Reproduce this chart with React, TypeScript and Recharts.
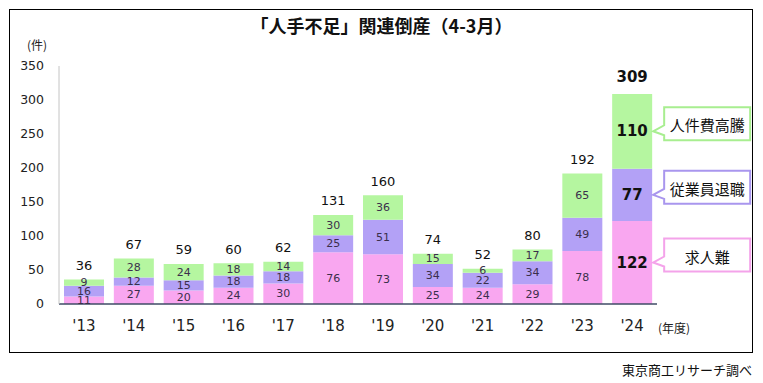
import { BarChart, Bar, XAxis, YAxis, LabelList } from 'recharts';

const years = ["'13", "'14", "'15", "'16", "'17", "'18", "'19", "'20", "'21", "'22", "'23", "'24"];
const kyujinnan = [11, 27, 20, 24, 30, 76, 73, 25, 24, 29, 78, 122];
const taishoku = [16, 12, 15, 18, 18, 25, 51, 34, 22, 34, 49, 77];
const jinkenhi = [9, 28, 24, 18, 14, 30, 36, 15, 6, 17, 65, 110];
const totals = [36, 67, 59, 60, 62, 131, 160, 74, 52, 80, 192, 309];
const yTicks = [0, 50, 100, 150, 200, 250, 300, 350];

const data = years.map((year, i) => ({
	year,
	kyujinnan: kyujinnan[i],
	taishoku: taishoku[i],
	jinkenhi: jinkenhi[i],
}));

const LAST = years.length - 1;
const FONT = "'DejaVu Sans', 'Noto Sans CJK JP', sans-serif";
const JP_FONT = "'Noto Sans CJK JP', sans-serif";

const PINK = '#f9a7f0';
const PURPLE = '#b3a1f6';
const GREEN = '#b5f6a0';

const box = (props: any) => {
	const vb = props.viewBox || {};
	const x = props.x ?? vb.x;
	const y = props.y ?? vb.y;
	const width = props.width ?? vb.width;
	const height = props.height ?? vb.height;
	return { x, y, width, height };
};

const Callout = ({ tipX, tipY, text, color }: any) => {
	const left = tipX + 11;
	const top = tipY - 24;
	const w = 86;
	const h = 33;
	const d = `M${left},${top} H${left + w} V${top + h} H${left} V${tipY + 4} L${tipX},${tipY} L${left},${tipY - 6} Z`;
	return (
		<g>
			<path d={d} fill="#fff" stroke={color} strokeWidth={2} />
			<text
				x={left + w / 2}
				y={top + h / 2 + 1}
				textAnchor="middle"
				dominantBaseline="central"
				fontSize={15}
				fontFamily={JP_FONT}
				fill="#111"
			>
				{text}
			</text>
		</g>
	);
};

const segmentLabel = (callout: string, color: string) => (props: any) => {
	const { x, y, width, height } = box(props);
	const { index, value } = props;
	const cx = x + width / 2;
	const cy = y + height / 2;
	if (index === LAST) {
		return (
			<g>
				<text
					x={cx}
					y={cy}
					textAnchor="middle"
					dominantBaseline="central"
					fontSize={15}
					fontWeight="bold"
					fontFamily={FONT}
					fill="#111"
				>
					{value}
				</text>
				<Callout tipX={x + width + 1} tipY={cy} text={callout} color={color} />
			</g>
		);
	}
	return (
		<text
			x={cx}
			y={cy}
			textAnchor="middle"
			dominantBaseline="central"
			fontSize={11}
			fontFamily={FONT}
			fill="#3b2f4c"
		>
			{value}
		</text>
	);
};

const totalLabel = (props: any) => {
	const { x, y, width } = box(props);
	const { index } = props;
	const last = index === LAST;
	return (
		<text
			x={x + width / 2}
			y={y - (last ? 17 : 14)}
			textAnchor="middle"
			dominantBaseline="central"
			fontSize={last ? 15 : 13}
			fontWeight={last ? 'bold' : 'normal'}
			fontFamily={FONT}
			fill="#111"
		>
			{totals[index]}
		</text>
	);
};

export default function App() {
	return (
		<div
			style={{
				position: 'absolute',
				left: 0,
				top: 0,
				width: 763,
				height: 383,
				background: '#fff',
				fontFamily: FONT,
			}}
		>
			<div
				style={{
					position: 'absolute',
					left: 9,
					top: 9,
					width: 742,
					height: 342,
					border: '1.5px solid #000',
				}}
			/>
			<div
				style={{
					position: 'absolute',
					left: 0,
					width: 763,
					top: 12,
					textAlign: 'center',
					fontSize: 18,
					fontWeight: 'bold',
					fontFamily: JP_FONT,
					color: '#111',
				}}
			>
				「人手不足」関連倒産（4-3月）
			</div>
			<div style={{ position: 'absolute', left: 27, top: 36, fontSize: 12, fontFamily: JP_FONT, color: '#222' }}>
				(件)
			</div>
			<div style={{ position: 'absolute', left: 658, top: 319, fontSize: 12, fontFamily: JP_FONT, color: '#222' }}>
				(年度)
			</div>
			<div
				style={{
					position: 'absolute',
					right: 11,
					top: 360,
					fontSize: 13,
					fontFamily: JP_FONT,
					color: '#111',
				}}
			>
				東京商工リサーチ調べ
			</div>
			<div style={{ position: 'absolute', left: 0, top: 0 }}>
				<BarChart
					width={763}
					height={383}
					data={data}
					margin={{ top: 66, right: 106, left: 0, bottom: 49 }}
					barCategoryGap={5}
				>
					<XAxis
						dataKey="year"
						height={30}
						tickLine={false}
						axisLine={{ stroke: '#3f4b66', strokeWidth: 1.5 }}
						tick={{ fill: '#222', fontSize: 15, fontFamily: FONT }}
						tickMargin={10}
						interval={0}
					/>
					<YAxis
						width={59}
						domain={[0, 350]}
						ticks={yTicks}
						interval={0}
						tickLine={false}
						axisLine={{ stroke: '#c4c4c4' }}
						tick={{ fill: '#222', fontSize: 12.5, fontFamily: FONT }}
						tickMargin={9}
					/>
					<Bar dataKey="kyujinnan" stackId="a" fill={PINK} isAnimationActive={false}>
						<LabelList dataKey="kyujinnan" content={segmentLabel('求人難', '#f4a3ea')} />
					</Bar>
					<Bar dataKey="taishoku" stackId="a" fill={PURPLE} isAnimationActive={false}>
						<LabelList dataKey="taishoku" content={segmentLabel('従業員退職', '#a996ee')} />
					</Bar>
					<Bar dataKey="jinkenhi" stackId="a" fill={GREEN} isAnimationActive={false}>
						<LabelList dataKey="jinkenhi" content={segmentLabel('人件費高騰', '#a8ee90')} />
						<LabelList dataKey="jinkenhi" content={totalLabel} />
					</Bar>
				</BarChart>
			</div>
		</div>
	);
}
